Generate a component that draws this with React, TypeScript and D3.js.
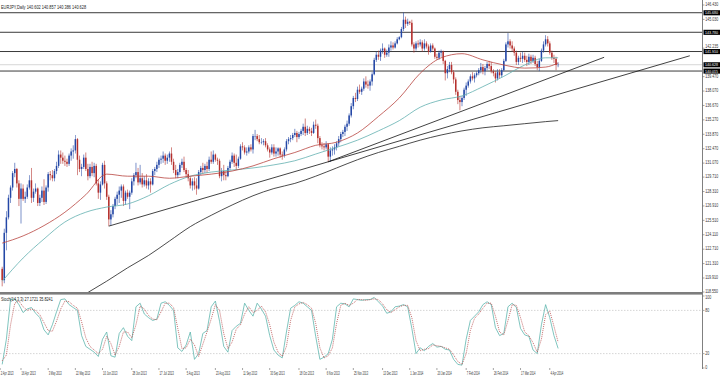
import React from "react";
import * as d3 from "d3";

// ---------- DATA ----------
const START = new Date(2013, 3, 3); // first visible daily bar
const OPEN0 = 120.8;

const CLOSE = [
  119.7,124.3,125.8,127.7,128.7,130.1,130.5,129.1,127.6,128.6,
  127.6,127.8,128.7,129.4,127.7,128.3,128.6,127.2,127.7,128.4,
  127.3,128.7,130.0,129.9,129.6,130.3,130.8,131.9,131.6,131.3,
  131.2,131.0,131.8,132.2,132.3,133.4,131.4,130.5,130.7,131.6,
  130.5,129.8,130.7,130.1,130.8,129.1,128.2,129.0,130.9,129.1,
  127.8,125.6,126.1,126.9,127.6,128.0,128.4,128.8,127.4,128.2,
  127.8,128.2,129.3,129.9,130.2,129.2,129.6,129.0,129.4,128.9,
  129.3,129.0,130.3,130.5,130.9,131.4,131.5,131.8,131.3,131.6,
  132.0,131.2,130.4,129.9,130.2,130.9,131.2,130.4,130.0,129.6,
  128.9,129.3,128.9,128.6,130.2,130.6,130.4,130.8,130.5,131.4,
  131.2,131.9,131.4,131.3,129.8,130.3,129.9,129.8,130.6,131.2,
  131.8,131.1,130.8,131.5,132.7,132.6,132.1,132.2,132.6,132.4,
  133.7,133.7,133.4,133.1,133.1,133.2,132.8,132.4,132.1,132.6,
  132.0,132.2,132.5,131.9,131.8,132.4,133.2,133.4,133.5,133.8,
  134.0,133.6,133.9,134.2,134.6,134.0,134.4,134.2,134.0,134.8,
  134.7,133.5,132.8,132.7,132.6,132.9,131.7,132.3,132.4,132.6,
  133.0,133.4,133.9,134.1,134.6,134.9,135.7,136.6,137.4,137.3,
  138.2,138.0,138.3,139.0,138.7,138.6,139.0,139.7,141.1,141.6,
  141.4,142.0,142.2,141.6,141.8,142.3,142.5,142.3,142.7,143.1,
  143.3,144.1,145.0,144.6,144.8,144.7,142.6,142.2,142.7,142.6,
  142.8,142.2,142.7,142.4,141.9,142.5,142.2,141.4,141.3,141.8,
  141.9,141.0,139.8,140.2,140.6,139.9,139.2,138.0,137.2,137.0,
  137.4,138.2,138.6,139.0,139.5,139.3,139.6,139.8,140.1,140.4,
  140.0,140.3,140.7,140.5,140.0,139.8,139.3,139.9,139.6,140.1,
  141.0,142.6,142.9,142.5,142.2,141.8,140.9,141.3,141.2,141.5,
  141.1,140.9,141.4,141.0,141.3,140.7,140.4,141.0,142.0,142.6,
  143.1,142.7,141.8,141.3,141.2,140.6,140.628,
];

const HIGH = [
  121.0,124.7,126.4,128.0,128.9,130.3,131.1,130.6,129.4,129.1,
  129.0,128.3,129.0,129.9,130.6,128.6,129.1,128.7,128.0,128.8,
  129.5,128.9,130.2,130.3,130.4,130.5,131.2,132.3,132.3,132.1,
  131.8,131.5,132.0,132.5,132.8,133.8,133.5,131.8,131.0,131.9,
  132.1,131.0,131.0,131.2,131.1,131.0,129.5,129.3,131.1,131.3,
  129.3,128.0,126.5,127.1,127.8,128.3,128.8,129.0,129.0,128.4,
  128.5,128.4,129.6,130.1,131.1,130.6,130.9,130.1,129.8,130.0,
  129.6,129.6,130.5,130.7,131.2,131.6,131.8,132.2,132.0,131.9,
  132.2,132.6,131.5,130.9,130.5,131.1,131.5,131.7,130.6,130.4,
  129.8,129.6,129.7,129.6,130.4,130.8,131.1,131.0,131.2,131.7,
  132.2,132.3,132.0,131.6,131.5,130.6,130.9,130.3,130.8,131.4,
  132.1,132.0,131.9,131.7,132.9,133.1,132.8,132.6,132.8,132.9,
  133.9,134.3,133.9,133.8,133.5,133.4,133.5,133.0,132.6,132.9,
  132.9,132.6,132.6,132.6,132.2,132.6,133.4,133.6,133.8,134.0,
  134.4,134.2,134.1,134.4,134.9,135.4,134.7,134.6,134.5,135.1,
  135.3,134.9,133.7,133.1,133.0,133.2,133.0,132.6,132.7,132.9,
  133.2,133.7,134.1,134.3,134.8,135.2,135.9,136.9,137.6,137.9,
  138.5,138.7,138.5,139.3,139.5,139.1,139.2,139.9,141.3,141.9,
  142.0,142.2,142.7,142.3,142.1,142.6,142.9,142.8,142.9,143.3,
  143.4,144.3,145.7,145.3,145.1,144.9,145.0,142.8,142.9,143.0,
  143.1,143.0,143.1,142.9,142.6,142.7,142.7,142.3,141.7,142.0,
  142.1,142.0,141.1,140.5,140.9,140.9,140.1,139.4,138.2,137.6,
  137.6,138.4,138.9,139.2,139.7,139.9,139.8,140.0,140.3,140.8,
  140.7,140.5,140.9,141.0,140.9,140.2,140.0,140.2,140.2,140.3,
  141.2,142.8,143.7,143.1,142.9,142.4,142.0,141.5,141.8,141.9,
  141.8,141.5,141.7,141.6,141.6,141.5,141.0,141.2,142.2,142.9,
  143.5,143.4,142.9,142.0,141.6,141.4,140.857,
];

const LOW = [
  119.1,119.4,122.6,125.6,127.2,128.4,129.7,128.7,126.9,125.2,
  127.4,127.2,127.6,128.5,127.2,127.3,128.1,126.9,126.9,127.3,
  127.0,127.1,128.3,129.4,129.3,129.3,130.0,130.6,131.0,131.0,
  130.8,130.7,130.8,131.3,131.5,132.0,129.9,130.2,129.8,130.5,
  130.3,129.4,129.6,129.8,129.7,128.9,127.6,127.5,128.9,128.6,
  127.5,124.95,125.0,125.8,126.6,127.0,127.2,127.7,126.9,127.0,
  127.6,126.6,128.0,128.9,129.6,128.9,129.0,128.7,128.8,128.6,
  128.5,128.2,128.9,129.9,130.2,130.6,131.0,131.1,130.9,131.0,
  131.2,130.9,130.1,129.6,129.6,129.9,130.6,130.2,129.7,129.3,
  128.6,128.4,128.5,128.0,128.5,129.9,130.0,130.1,130.1,130.3,
  131.0,131.0,131.2,130.9,129.6,129.3,129.4,129.4,129.7,130.4,
  131.0,130.7,130.4,130.6,131.4,132.3,131.9,131.8,132.0,132.2,
  132.0,133.3,133.2,132.9,132.9,132.8,132.6,132.2,131.6,131.9,
  131.7,131.7,131.8,131.6,131.4,131.6,132.2,132.9,133.1,133.3,
  133.6,133.1,133.4,133.7,133.8,133.7,133.8,133.9,133.7,133.9,
  134.4,133.0,132.6,132.4,132.3,132.4,131.2,131.2,131.8,131.9,
  132.3,132.7,133.1,133.6,133.7,134.2,134.7,135.5,136.3,137.0,
  137.1,137.8,137.7,138.1,138.4,138.3,138.1,138.6,139.6,140.9,
  141.1,141.0,141.7,141.3,141.4,141.4,142.0,142.1,142.2,142.6,
  143.0,143.2,143.9,144.2,144.4,144.5,142.4,141.8,142.0,142.3,
  142.4,141.9,142.0,142.2,141.6,141.8,142.0,141.2,141.1,141.1,
  141.4,140.7,139.1,139.3,139.9,139.7,138.8,137.7,136.8,136.2,
  136.6,137.2,137.6,138.4,138.8,139.1,138.9,139.4,139.6,139.8,
  139.7,139.6,140.1,140.2,139.8,139.5,138.9,139.1,139.3,139.4,
  140.0,140.9,142.3,142.2,141.9,141.5,140.6,140.6,140.9,140.8,
  140.9,140.5,140.6,140.7,140.8,140.5,140.1,140.0,140.9,141.8,
  142.4,142.4,141.6,141.1,140.8,140.1,140.386,
];

// moving averages, read every 10 bars
const MA_IDX = [0,10,20,30,40,50,60,70,80,90,100,110,120,130,140,150,160,170,180,190,200,210,220,230,240,250,260,266];
const MA_RED = [123.3,124.0,125.0,126.3,128.0,130.0,129.8,129.8,129.6,129.8,130.0,130.3,130.8,131.5,132.1,132.8,133.1,134.0,135.6,137.4,139.8,141.3,141.7,141.1,140.6,140.3,140.4,140.8];
const MA_TEAL = [119.6,121.85,123.7,125.35,126.3,126.8,127.1,127.9,129.0,129.8,130.2,130.4,130.6,130.9,131.3,131.95,132.6,133.3,134.2,135.2,136.5,137.2,137.6,138.5,139.5,140.6,141.3,141.3];
const MA_BLACK_IDX = [41,50,60,70,80,90,100,110,120,130,140,150,160,170,180,190,200,210,220,230,240,250,260,266];
const MA_BLACK = [118.5,119.6,120.9,122.1,123.5,124.9,126.0,127.0,127.9,128.6,129.1,129.8,130.6,131.4,132.1,132.7,133.3,133.8,134.2,134.5,134.7,134.9,135.1,135.2];

// stochastic (14,3,3), read every 2 bars
const STOCH_K = [
  5,40,95,96,88,77,82,84,76,70, 53,46,60,78,95,96,88,84,80,45,
  30,26,22,16,40,50,17,15,48,56, 44,38,85,90,75,70,66,68,90,92,
  87,80,28,23,32,50,12,20,48,52, 85,93,65,30,22,52,58,62,90,80,
  72,90,82,72,45,25,18,14,50,83, 87,92,90,85,80,44,12,15,20,40,
  85,90,89,85,96,95,94,95,95,98, 92,86,76,78,85,86,88,85,55,20,
  28,24,30,34,29,30,26,25,12,5, 4,40,66,72,78,88,92,88,56,45,
  48,85,90,84,55,46,44,25,20,60, 88,70,45,27.17,
];
const STOCH_D = [
  10,18,60,90,93,85,80,82,80,74, 63,52,51,65,82,93,92,87,83,64,
  42,30,25,20,26,44,34,18,30,50, 50,42,60,86,82,73,68,67,78,90,
  90,84,55,27,28,40,32,16,33,50, 68,88,80,48,27,36,54,60,75,85,
  77,80,86,78,60,36,22,16,30,66, 85,89,91,88,83,62,28,14,17,28,
  62,87,90,87,90,95,95,94,95,96, 95,89,81,77,81,85,87,87,70,38,
  24,26,27,32,31,30,28,26,18,9, 5,20,52,69,75,83,90,90,72,50,
  46,66,88,87,70,50,45,35,22,40, 74,79,58,35.82,
];
const STOCH_LEVELS = [80, 20];
const STOCH_AXIS = ["100", "80", "20", "0"];

// trendlines: [bar index, price]
const TREND_A = [[51, 124.95], [156, 131.2]];
const TREND_A_END = 329;
const TREND_B = [[156, 131.2], [288, 141.35]];

const H_LINES = [145.68, 143.78, 141.91, 140.015];
const BID = 140.628;

const PRICE_TICKS = ["146.430","145.030","142.235","139.470","138.070","136.670","135.270","133.870","132.470","131.070","129.710","128.310","126.910","125.510","124.110","122.710","121.310","119.910","118.550"];

const DATE_LABELS = ["2 Apr 2013","16 Apr 2013","3 May 2013","22 May 2013","10 Jun 2013","28 Jun 2013","17 Jul 2013","5 Aug 2013","23 Aug 2013","11 Sep 2013","30 Sep 2013","18 Oct 2013","6 Nov 2013","25 Nov 2013","13 Dec 2013","1 Jan 2014","20 Jan 2014","7 Feb 2014","26 Feb 2014","17 Mar 2014","4 Apr 2014"];

const HEADER = "EURJPY,Daily  140.602 140.857 140.386 140.628";
const STOCH_TITLE = "Stoch(14,3,3) 27.1721 35.8241";

// ---------- CHART ----------
const FONT = "'Liberation Sans', Arial, sans-serif";

// approximate Arial advance widths (em) used to squeeze text horizontally
const CW: Record<string, number> = {
  " ": 0.278, ".": 0.278, ",": 0.278, "(": 0.333, ")": 0.333,
  A: 0.667, M: 0.833, J: 0.5, S: 0.667, O: 0.778, N: 0.722, D: 0.722, F: 0.611,
  E: 0.667, U: 0.722, R: 0.722, P: 0.667, Y: 0.667,
  a: 0.556, b: 0.556, c: 0.5, e: 0.556, g: 0.556, h: 0.556, i: 0.222, l: 0.222,
  n: 0.556, o: 0.556, p: 0.556, r: 0.333, t: 0.278, u: 0.556, v: 0.5, y: 0.5,
};
function natWidth(s: string, fs: number) {
  let w = 0;
  for (const ch of s) w += CW[ch] ?? 0.556;
  return w * fs;
}

function SqText(props: { x: number; y: number; w: number; fs: number; fill: string; children: string }) {
  const { x, y, w, fs, fill, children } = props;
  const sx = w / natWidth(children, fs);
  return (
    <text transform={`translate(${x},${y}) scale(${sx.toFixed(4)},1)`} fontSize={fs} fill={fill}>
      {children}
    </text>
  );
}

function weekdayIndex(d: Date): number {
  const a = d < START ? d : START;
  const b = d < START ? START : d;
  const n = d3.timeDay.range(a, b).filter((t) => t.getDay() !== 0 && t.getDay() !== 6).length;
  return d < START ? -n : n;
}

export default function App() {
  const N = CLOSE.length;
  const x = d3.scaleLinear().domain([0, N - 1]).range([2.2, 2.2 + 2.09 * (N - 1)]);
  const y = d3.scaleLinear().domain([118.55, 146.43]).range([292, 5]);
  const ys = d3.scaleLinear().domain([0, 100]).range([368, 296]);
  const AX = 702.5;
  const parse = d3.timeParse("%d %b %Y");

  const bars = CLOSE.map((c, i) => {
    const o = i === 0 ? OPEN0 : CLOSE[i - 1];
    return { i, o, c, h: Math.max(HIGH[i], o, c), l: Math.min(LOW[i], o, c) };
  });

  const maLine = d3
    .line<[number, number]>()
    .x((d) => x(d[0]))
    .y((d) => y(d[1]))
    .curve(d3.curveMonotoneX);
  const stLine = d3
    .line<[number, number]>()
    .x((d) => x(d[0]))
    .y((d) => ys(d[1]));

  const redPath = maLine(MA_IDX.map((k, j) => [k, MA_RED[j]] as [number, number])) || "";
  const tealPath = maLine(MA_IDX.map((k, j) => [k, MA_TEAL[j]] as [number, number])) || "";
  const blackPath = maLine(MA_BLACK_IDX.map((k, j) => [k, MA_BLACK[j]] as [number, number])) || "";
  const kPath = stLine(STOCH_K.map((v, j) => [j * 2, v] as [number, number])) || "";
  const dPath = stLine(STOCH_D.map((v, j) => [j * 2, v] as [number, number])) || "";

  const slopeA = (TREND_A[1][1] - TREND_A[0][1]) / (TREND_A[1][0] - TREND_A[0][0]);
  const aEndPrice = TREND_A[0][1] + slopeA * (TREND_A_END - TREND_A[0][0]);

  const bull = "#2447a6";
  const bear = "#b5302d";

  return (
    <svg
      width={720}
      height={376}
      viewBox="0 0 720 376"
      style={{ position: "absolute", left: 0, top: 0, background: "#fff", fontFamily: FONT }}
    >
      <defs>
        <clipPath id="mainClip">
          <rect x={0} y={0} width={AX} height={292} />
        </clipPath>
        <clipPath id="subClip">
          <rect x={0} y={295} width={AX} height={74} />
        </clipPath>
      </defs>
      <rect x={0} y={0} width={720} height={376} fill="#fff" />

      {/* horizontal levels */}
      <g clipPath="url(#mainClip)">
        {H_LINES.map((v) => (
          <line key={v} x1={0} x2={AX} y1={y(v)} y2={y(v)} stroke="#3a3a3a" strokeWidth={1} />
        ))}
        <line x1={0} x2={AX} y1={y(BID)} y2={y(BID)} stroke="#d6d6d6" strokeWidth={1} />

        {/* candles */}
        {bars.map((b) => {
          const cx = x(b.i);
          const col = b.c >= b.o ? bull : bear;
          const top = y(Math.max(b.o, b.c));
          const hgt = Math.max(0.4, Math.abs(y(b.o) - y(b.c)));
          return (
            <g key={b.i}>
              <line x1={cx} x2={cx} y1={y(b.h)} y2={y(b.l)} stroke={col} strokeWidth={0.7} opacity={0.85} />
              <rect x={cx - 0.75} y={top} width={1.5} height={hgt} fill={col} />
            </g>
          );
        })}

        {/* moving averages */}
        <path d={blackPath} fill="none" stroke="#1e1e1e" strokeWidth={0.8} />
        <path d={tealPath} fill="none" stroke="#62b0b0" strokeWidth={0.8} />
        <path d={redPath} fill="none" stroke="#b8443f" strokeWidth={0.8} />

        {/* trendlines */}
        <line
          x1={x(TREND_A[0][0])}
          y1={y(TREND_A[0][1])}
          x2={x(TREND_A_END)}
          y2={y(aEndPrice)}
          stroke="#111"
          strokeWidth={0.8}
        />
        <line
          x1={x(TREND_B[0][0])}
          y1={y(TREND_B[0][1])}
          x2={x(TREND_B[1][0])}
          y2={y(TREND_B[1][1])}
          stroke="#111"
          strokeWidth={0.8}
        />
      </g>

      {/* header */}
      <SqText x={1} y={8.5} w={87} fs={5} fill="#222">{HEADER}</SqText>

      {/* price axis */}
      <line x1={AX} x2={AX} y1={0} y2={369} stroke="#808080" strokeWidth={1} />
      {PRICE_TICKS.map((t) => {
        const ty = y(+t);
        return (
          <g key={t}>
            <line x1={AX} x2={AX + 2} y1={ty} y2={ty} stroke="#666" strokeWidth={0.6} />
            <SqText x={705.2} y={ty + (t === "142.235" ? -0.3 : 1.3)} w={13} fs={4.5} fill="#333">{t}</SqText>
          </g>
        );
      })}
      {[...H_LINES, BID].map((v) => (
        <g key={"b" + v}>
          <rect x={703.5} y={y(v) - 2.5} width={16.5} height={5.1} fill="#000" />
          <SqText x={705} y={y(v) + 1.5} w={13} fs={4.3} fill="#fff">{v.toFixed(3)}</SqText>
        </g>
      ))}

      {/* separator */}
      <rect x={0} y={292} width={AX} height={2.6} fill="#7d7d7d" />

      {/* stochastic */}
      {STOCH_LEVELS.map((v) => (
        <line key={v} x1={0} x2={AX} y1={ys(v)} y2={ys(v)} stroke="#c4c4c4" strokeWidth={0.7} strokeDasharray="1.5 1.5" />
      ))}
      <g clipPath="url(#subClip)">
        <path d={kPath} fill="none" stroke="#5fb6ae" strokeWidth={0.8} />
        <path d={dPath} fill="none" stroke="#b84a4a" strokeWidth={0.8} strokeDasharray="1 1" />
      </g>
      <SqText x={1} y={301} w={52} fs={5} fill="#222">{STOCH_TITLE}</SqText>
      {STOCH_AXIS.map((t) => (
        <g key={t}>
          <line x1={AX} x2={AX + 2} y1={ys(+t)} y2={ys(+t)} stroke="#666" strokeWidth={0.6} />
          <SqText
            x={705.2}
            y={ys(+t) + (t === "100" ? 3 : t === "0" ? 1.2 : 1.8)}
            w={t.length * 2}
            fs={4.5}
            fill="#333"
          >
            {t}
          </SqText>
        </g>
      ))}

      {/* time axis */}
      {DATE_LABELS.map((s) => {
        const d = parse(s);
        if (!d) return null;
        const tx = x(weekdayIndex(d));
        return (
          <g key={s}>
            <line x1={tx} x2={tx} y1={368} y2={370} stroke="#666" strokeWidth={0.6} />
            <SqText x={tx + 0.6} y={375} w={s.length * 1.3} fs={5} fill="#333">{s}</SqText>
          </g>
        );
      })}
    </svg>
  );
}
